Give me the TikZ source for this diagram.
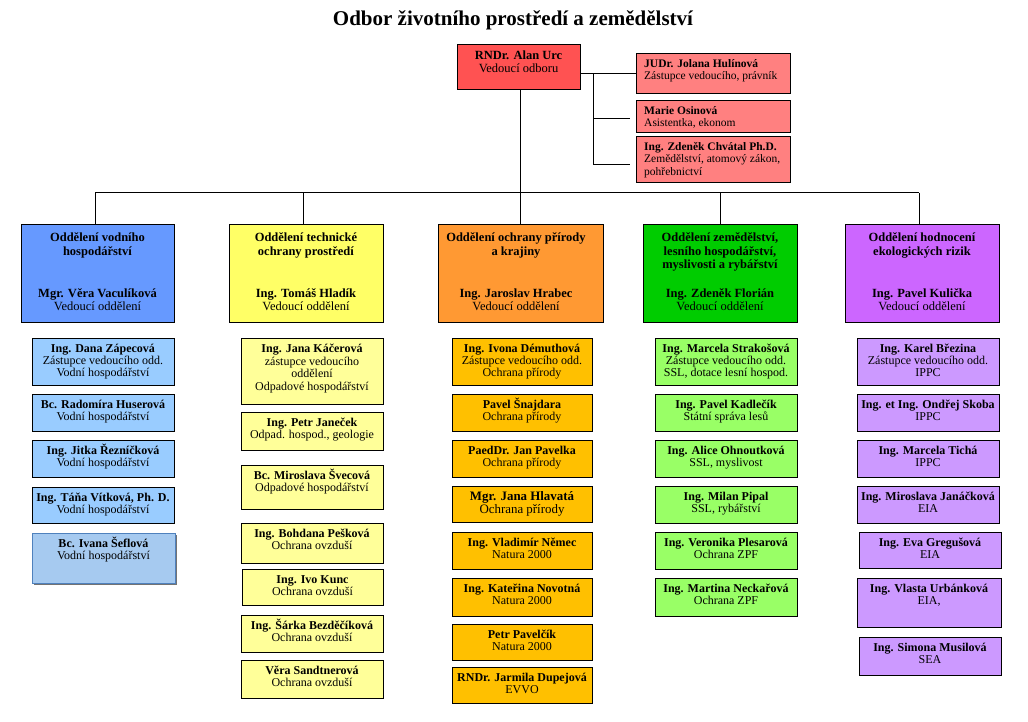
\documentclass[tikz,border=0pt]{standalone}
\usepackage{fontspec}
\setmainfont{Liberation Serif}
\usetikzlibrary{shadows}
\lineskiplimit=-50pt
\lineskip=0pt
\definecolor{cUrc}{RGB}{255,82,82}
\definecolor{cSide}{RGB}{255,128,128}
\definecolor{cBlueD}{RGB}{102,153,255}
\definecolor{cBlueS}{RGB}{153,204,255}
\definecolor{cSefl}{RGB}{166,202,240}
\definecolor{cSeflB}{RGB}{79,129,189}
\definecolor{cYelD}{RGB}{255,255,102}
\definecolor{cYelS}{RGB}{255,255,153}
\definecolor{cOrD}{RGB}{255,153,51}
\definecolor{cOrS}{RGB}{255,192,0}
\definecolor{cGrD}{RGB}{0,204,0}
\definecolor{cGrS}{RGB}{153,255,102}
\definecolor{cPuD}{RGB}{204,102,255}
\definecolor{cPuS}{RGB}{204,153,255}
% staff box: [text opts]{name}{x1}{y1}{x2}{y2}{style}{text}
\newcommand\mybox[8][]{%
  \node[#7, anchor=north west, minimum width={(#5)-(#3)}, minimum height={(#6)-(#4)}] (#2) at (#3,#4) {};
  \node[stafftxt, #1, anchor=north] (#2-t) at ([yshift=-3pt]#2.north) {\rule{0pt}{11pt}#8};
}
% department box: {name}{x1}{x2}{style}{text x}{header}{bottom}
\newcommand\dept[7]{%
  \node[#4, anchor=north west, minimum width={(#3)-(#2)}, minimum height=97] (#1) at (#2,225) {};
  \node[depttxt, anchor=north] (#1-h) at (#5,229) {\rule{0pt}{12.5pt}#6};
  \node[depttxt, anchor=south] (#1-n) at (#5,314) {#7\rule[-3pt]{0pt}{3pt}};
}
% side box: {name}{y1}{y2}{text}
\newcommand\side[4]{%
  \node[sbox, anchor=north west, minimum width=154, minimum height={(#3)-(#2)}] (#1) at (636,#2) {};
  \node[sidetxt, anchor=north west] (#1-t) at (644,{#2+2}) {\rule{0pt}{11pt}#4};
}
\begin{document}
\begin{tikzpicture}[x=1pt,y=-1pt,
  box/.style={draw=black, line width=1pt, outer sep=0pt, inner sep=0pt},
  sbox/.style={box, fill=cSide},
  dBs/.style={box, fill=cBlueD}, dYs/.style={box, fill=cYelD}, dOs/.style={box, fill=cOrD},
  dGs/.style={box, fill=cGrD}, dPs/.style={box, fill=cPuD},
  sB/.style={box, fill=cBlueS}, sY/.style={box, fill=cYelS}, sO/.style={box, fill=cOrS},
  sG/.style={box, fill=cGrS}, sP/.style={box, fill=cPuS},
  sSefl/.style={box, draw=cSeflB, fill=cSefl, drop shadow={shadow xshift=2pt, shadow yshift=-2pt, fill=black!55, opacity=1}},
  stafftxt/.style={align=center, inner sep=0pt, font=\fontsize{12}{12}\selectfont},
  depttxt/.style={align=center, inner sep=0pt, font=\fontsize{12.5}{13.5}\selectfont},
  sidetxt/.style={align=left, inner sep=0pt, font=\fontsize{11.5}{12.5}\selectfont},
  conn/.style={draw=black, line width=1pt}]
\useasboundingbox (0,0) rectangle (1028,722);
\fill[white] (0,0) rectangle (1028,722);

% title
\node[anchor=base, inner sep=0pt, font=\bfseries\fontsize{21}{23}\selectfont] (title) at (513,26) {Odbor životního prostředí a zemědělství};

% head
\node[box, fill=cUrc, anchor=north west, minimum width=123, minimum height=45] (urc) at (457,45) {};
\node[depttxt, anchor=north] (urc-t) at (518.5,48) {\rule{0pt}{11pt}\textbf{RNDr. Alan Urc}\\Vedoucí odboru};

\side{s1}{54}{94}{\textbf{JUDr. Jolana Hulínová}\\Zástupce vedoucího, právník}
\side{s2}{101}{133}{\textbf{Marie Osinová}\\Asistentka, ekonom}
\side{s3}{137}{183}{\textbf{Ing. Zdeněk Chvátal Ph.D.}\\Zemědělství, atomový zákon,\\pohřebnictví}

\coordinate (sj1) at (593,74);
\coordinate (sj2) at (593,119);
\coordinate (sj3) at (593,165);
\draw[conn] (urc.east |- sj1) -- (s1.west |- sj1);
\draw[conn] (sj1) -- (sj3);
\draw[conn] (sj2) -- ([xshift=-6pt]s2.west |- sj2);
\draw[conn] (sj3) -- ([xshift=-6pt]s3.west |- sj3);

% departments
\dept{dB}{21}{174}{dBs}{97.5}{\textbf{Oddělení vodního}\\\textbf{hospodářství}}{\textbf{Mgr. Věra Vaculíková}\\Vedoucí oddělení}
\dept{dY}{229}{383}{dYs}{306}{\textbf{Oddělení technické}\\\textbf{ochrany prostředí}}{\textbf{Ing. Tomáš Hladík}\\Vedoucí oddělení}
\dept{dO}{438}{603}{dOs}{516}{\textbf{Oddělení ochrany přírody}\\\textbf{a krajiny}}{\textbf{Ing. Jaroslav Hrabec}\\Vedoucí oddělení}
\dept{dG}{643}{797}{dGs}{720}{\textbf{Oddělení zemědělství,}\\\textbf{lesního hospodářství,}\\\textbf{myslivosti a rybářství}}{\textbf{Ing. Zdeněk Florián}\\Vedoucí oddělení}
\dept{dP}{845}{999}{dPs}{922}{\textbf{Oddělení hodnocení}\\\textbf{ekologických rizik}}{\textbf{Ing. Pavel Kulička}\\Vedoucí oddělení}

% bus
\coordinate (jB) at (95,193);
\coordinate (jY) at (303,193);
\coordinate (jO) at (520,193);
\coordinate (jG) at (720,193);
\coordinate (jP) at (919,193);
\draw[conn] (jB) -- (jP);
\draw[conn] (urc.south -| jO) -- (jO);
\draw[conn] (jB) -- (jB |- dB.north);
\draw[conn] (jY) -- (jY |- dY.north);
\draw[conn] (jO) -- (jO |- dO.north);
\draw[conn] (jG) -- (jG |- dG.north);
\draw[conn] (jP) -- (jP |- dP.north);

% blue column
\mybox{b1}{32}{338}{174}{385}{sB}{\textbf{Ing. Dana Zápecová}\\Zástupce vedoucího odd.\\Vodní hospodářství}
\mybox{b2}{32}{394}{174}{431}{sB}{\textbf{Bc. Radomíra Huserová}\\Vodní hospodářství}
\mybox{b3}{32}{440}{174}{477}{sB}{\textbf{Ing. Jitka Řezníčková}\\Vodní hospodářství}
\mybox{b4}{32}{487}{174}{523}{sB}{\textbf{Ing. Táňa Vítková, Ph. D.}\\Vodní hospodářství}
\mybox{b5}{32}{533}{175}{583}{sSefl}{\textbf{Bc. Ivana Šeflová}\\Vodní hospodářství}

% yellow column
\mybox[font=\fontsize{12}{12.8}\selectfont]{y1}{241}{338}{383}{404}{sY}{\textbf{Ing. Jana Káčerová}\\zástupce vedoucího\\oddělení\\Odpadové hospodářství}
\mybox{y2}{241}{412}{383}{450}{sY}{\textbf{Ing. Petr Janeček}\\Odpad. hospod., geologie}
\mybox{y3}{241}{465}{383}{509}{sY}{\textbf{Bc. Miroslava Švecová}\\Odpadové hospodářství}
\mybox{y4}{241}{523}{383}{563}{sY}{\textbf{Ing. Bohdana Pešková}\\Ochrana ovzduší}
\mybox{y5}{242}{569}{383}{605}{sY}{\textbf{Ing. Ivo Kunc}\\Ochrana ovzduší}
\mybox{y6}{241}{615}{383}{652}{sY}{\textbf{Ing. Šárka Bezděčíková}\\Ochrana ovzduší}
\mybox{y7}{241}{660}{383}{698}{sY}{\textbf{Věra Sandtnerová}\\Ochrana ovzduší}

% orange column
\mybox{o1}{452}{338}{592}{385}{sO}{\textbf{Ing. Ivona Démuthová}\\Zástupce vedoucího odd.\\Ochrana přírody}
\mybox{o2}{452}{394}{592}{431}{sO}{\textbf{Pavel Šnajdara}\\Ochrana přírody}
\mybox{o3}{452}{440}{592}{477}{sO}{\textbf{PaedDr. Jan Pavelka}\\Ochrana přírody}
\mybox[font=\fontsize{12.9}{12.8}\selectfont]{o4}{452}{486}{592}{522}{sO}{\textbf{Mgr. Jana Hlavatá}\\Ochrana přírody}
\mybox{o5}{452}{532}{592}{569}{sO}{\textbf{Ing. Vladimír Němec}\\Natura 2000}
\mybox{o6}{452}{578}{592}{616}{sO}{\textbf{Ing. Kateřina Novotná}\\Natura 2000}
\mybox{o7}{452}{624}{592}{660}{sO}{\textbf{Petr Pavelčík}\\Natura 2000}
\mybox{o8}{452}{667}{592}{703}{sO}{\textbf{RNDr. Jarmila Dupejová}\\EVVO}

% green column
\mybox{g1}{655}{338}{797}{385}{sG}{\textbf{Ing. Marcela Strakošová}\\Zástupce vedoucího odd.\\SSL, dotace lesní hospod.}
\mybox{g2}{655}{394}{797}{431}{sG}{\textbf{Ing. Pavel Kadlečík}\\Státní správa lesů}
\mybox{g3}{655}{440}{797}{477}{sG}{\textbf{Ing. Alice Ohnoutková}\\SSL, myslivost}
\mybox{g4}{655}{486}{797}{523}{sG}{\textbf{Ing. Milan Pipal}\\SSL, rybářství}
\mybox{g5}{655}{532}{797}{569}{sG}{\textbf{Ing. Veronika Plesarová}\\Ochrana ZPF}
\mybox{g6}{655}{578}{797}{616}{sG}{\textbf{Ing. Martina Neckařová}\\Ochrana ZPF}

% purple column
\mybox{p1}{857}{338}{999}{385}{sP}{\textbf{Ing. Karel Březina}\\Zástupce vedoucího odd.\\IPPC}
\mybox{p2}{857}{394}{999}{431}{sP}{\textbf{Ing. et Ing. Ondřej Skoba}\\IPPC}
\mybox{p3}{857}{440}{999}{477}{sP}{\textbf{Ing. Marcela Tichá}\\IPPC}
\mybox{p4}{857}{486}{999}{523}{sP}{\textbf{Ing. Miroslava Janáčková}\\EIA}
\mybox{p5}{859}{532}{1001}{568}{sP}{\textbf{Ing. Eva Gregušová}\\EIA}
\mybox{p6}{857}{578}{1001}{627}{sP}{\textbf{Ing. Vlasta Urbánková}\\EIA,}
\mybox{p7}{859}{637}{1001}{675}{sP}{\textbf{Ing. Simona Musilová}\\SEA}
\end{tikzpicture}
\end{document}
